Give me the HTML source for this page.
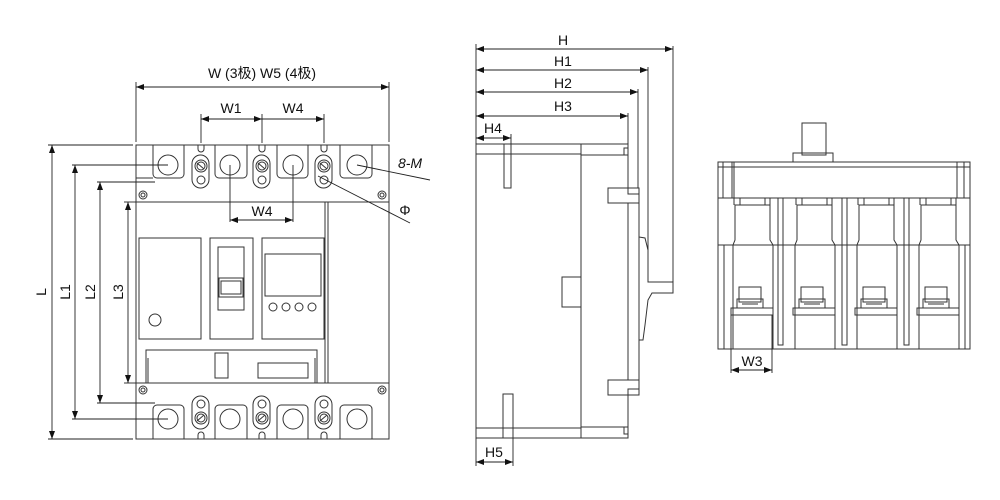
<!DOCTYPE html>
<html><head><meta charset="utf-8"><style>
html,body{margin:0;padding:0;background:#fff;}
svg{display:block;}
text{font-family:"Liberation Sans","Noto Sans CJK SC",sans-serif;font-size:14px;fill:#111;}
</style></head><body>
<svg width="1000" height="500" viewBox="0 0 1000 500" xmlns="http://www.w3.org/2000/svg">
<defs>
<marker id="a" markerWidth="8" markerHeight="6" refX="8" refY="3" orient="auto-start-reverse" markerUnits="userSpaceOnUse"><path d="M0,0 L8,3 L0,6 z" fill="#111"/></marker>
</defs>
<g fill="none" stroke="#333" stroke-width="1">
<!-- FRONT VIEW -->
<rect x="136" y="145" width="253" height="294"/>
<line x1="136" y1="202" x2="389" y2="202"/>
<line x1="136" y1="383" x2="389" y2="383"/>
<line x1="325" y1="202" x2="325" y2="383"/>
<line x1="328" y1="202" x2="328" y2="383"/>
<circle cx="143" cy="195" r="4"/><circle cx="143" cy="195" r="2"/>
<circle cx="382" cy="195" r="4"/><circle cx="382" cy="195" r="2"/>
<circle cx="143" cy="390" r="4"/><circle cx="143" cy="390" r="2"/>
<circle cx="382" cy="390" r="4"/><circle cx="382" cy="390" r="2"/>
<!-- top terminals -->
<path d="M153,145 V174 a4,4 0 0 0 4,4 H180 a4,4 0 0 0 4,-4 V145"/>
<path d="M215,145 V174 a4,4 0 0 0 4,4 H243 a4,4 0 0 0 4,-4 V145"/>
<path d="M277,145 V174 a4,4 0 0 0 4,4 H304 a4,4 0 0 0 4,-4 V145"/>
<path d="M340,145 V174 a4,4 0 0 0 4,4 H368 a4,4 0 0 0 4,-4 V145"/>
<circle cx="168" cy="165" r="10"/><circle cx="230" cy="165" r="10"/><circle cx="293" cy="165" r="10"/><circle cx="357" cy="165" r="10"/>
<line x1="136" y1="178" x2="153" y2="178"/>
<!-- bottom terminals -->
<path d="M153,439 V409 a4,4 0 0 1 4,-4 H180 a4,4 0 0 1 4,4 V439"/>
<path d="M215,439 V409 a4,4 0 0 1 4,-4 H243 a4,4 0 0 1 4,4 V439"/>
<path d="M277,439 V409 a4,4 0 0 1 4,-4 H304 a4,4 0 0 1 4,4 V439"/>
<path d="M340,439 V409 a4,4 0 0 1 4,-4 H368 a4,4 0 0 1 4,4 V439"/>
<circle cx="168" cy="419" r="10"/><circle cx="230" cy="419" r="10"/><circle cx="293" cy="419" r="10"/><circle cx="357" cy="419" r="10"/>
<!-- screws top -->
<g id="sc">
<rect x="192" y="155" width="17" height="33" rx="8.5"/>
<circle cx="201" cy="166" r="6"/><circle cx="201" cy="166" r="4"/>
<line x1="197" y1="163" x2="204" y2="169"/>
<circle cx="201" cy="180" r="4"/>
<path d="M198,145 v4 a3,3 0 0 0 6,0 v-4"/>
</g>
<use href="#sc" x="61"/><use href="#sc" x="123"/>
<g transform="translate(0,584) scale(1,-1)"><use href="#sc"/><use href="#sc" x="61"/><use href="#sc" x="123"/></g>
<!-- panels -->
<rect x="139" y="238" width="62" height="101"/>
<circle cx="155" cy="320" r="6"/>
<rect x="210" y="238" width="43" height="101"/>
<rect x="218" y="247" width="26" height="63"/>
<rect x="219" y="278" width="24" height="19"/>
<rect x="221" y="281" width="20" height="13"/>
<rect x="262" y="238" width="62" height="101"/>
<rect x="265" y="254" width="56" height="42"/>
<circle cx="273" cy="307" r="4"/><circle cx="286" cy="307" r="4"/><circle cx="299" cy="307" r="4"/><circle cx="312" cy="307" r="4"/>
<path d="M146,383 V350 H317 V383"/>
<path d="M148,383 V358 M315,383 V358"/>
<rect x="215" y="353" width="13" height="25"/>
<rect x="258" y="363" width="50" height="15"/>
</g>
<!-- front dims -->
<g fill="none" stroke="#222" stroke-width="0.9">
<line x1="136" y1="87" x2="389" y2="87" marker-start="url(#a)" marker-end="url(#a)"/>
<line x1="136" y1="82" x2="136" y2="142"/><line x1="389" y1="82" x2="389" y2="142"/>
<line x1="201" y1="119" x2="262" y2="119" marker-start="url(#a)" marker-end="url(#a)"/>
<line x1="262" y1="119" x2="324" y2="119" marker-end="url(#a)"/>
<line x1="201" y1="114" x2="201" y2="143"/><line x1="262" y1="114" x2="262" y2="143"/><line x1="324" y1="114" x2="324" y2="143"/>
<line x1="230" y1="165" x2="230" y2="222"/><line x1="293" y1="165" x2="293" y2="222"/>
<line x1="230" y1="220" x2="293" y2="220" marker-start="url(#a)" marker-end="url(#a)"/>
<line x1="52" y1="145" x2="52" y2="439" marker-start="url(#a)" marker-end="url(#a)"/>
<line x1="48" y1="145" x2="133" y2="145"/><line x1="48" y1="439" x2="133" y2="439"/>
<line x1="75" y1="165" x2="75" y2="419" marker-start="url(#a)" marker-end="url(#a)"/>
<line x1="72" y1="165" x2="168" y2="165"/><line x1="72" y1="419" x2="168" y2="419"/>
<line x1="100" y1="182" x2="100" y2="403" marker-start="url(#a)" marker-end="url(#a)"/>
<line x1="97" y1="182" x2="155" y2="182"/><line x1="97" y1="403" x2="155" y2="403"/>
<line x1="128" y1="202" x2="128" y2="383" marker-start="url(#a)" marker-end="url(#a)"/>
<line x1="124" y1="202" x2="136" y2="202"/><line x1="124" y1="383" x2="136" y2="383"/>
<line x1="357" y1="165" x2="430" y2="180"/>
<line x1="318" y1="176" x2="410" y2="223"/>
</g>
<text x="262" y="78" text-anchor="middle">W (3极) W5 (4极)</text>
<text x="231" y="113" text-anchor="middle">W1</text>
<text x="293" y="113" text-anchor="middle">W4</text>
<text x="262" y="216" text-anchor="middle">W4</text>
<text x="410" y="168" text-anchor="middle" font-style="italic">8-M</text>
<text x="405" y="215" text-anchor="middle">Φ</text>
<text transform="translate(46,292) rotate(-90)" text-anchor="middle">L</text>
<text transform="translate(70,292) rotate(-90)" text-anchor="middle">L1</text>
<text transform="translate(95,292) rotate(-90)" text-anchor="middle">L2</text>
<text transform="translate(123,292) rotate(-90)" text-anchor="middle">L3</text>

<!-- SIDE VIEW -->
<g fill="none" stroke="#333" stroke-width="1">
<rect x="476" y="144" width="105" height="294"/>
<line x1="476" y1="154" x2="581" y2="154"/><line x1="476" y1="428" x2="581" y2="428"/>
<path d="M581,144 H628 V188 M581,438 H628 V393"/>
<line x1="581" y1="155" x2="625" y2="155"/><line x1="581" y1="427" x2="625" y2="427"/>
<rect x="624" y="148" width="4" height="7"/><rect x="624" y="427" width="4" height="7"/>
<rect x="504" y="144" width="7" height="44"/>
<rect x="503" y="394" width="10" height="44"/>
<rect x="562" y="277" width="19" height="30"/>
<rect x="608" y="188" width="31" height="15"/><rect x="628" y="188" width="11" height="6"/>
<rect x="608" y="380" width="31" height="15"/><rect x="628" y="389" width="11" height="6"/>
<line x1="628" y1="203" x2="628" y2="380"/><line x1="639" y1="203" x2="639" y2="380"/>
<path d="M639,237 L645,238 L648,250 L648,282 L673,282 L673,293 L652,293 L648,300 L645,325 L643,340 L639,340"/>
</g>
<g fill="none" stroke="#222" stroke-width="0.9">
<line x1="476" y1="44" x2="476" y2="144"/>
<line x1="476" y1="49" x2="673" y2="49" marker-start="url(#a)" marker-end="url(#a)"/>
<line x1="673" y1="46" x2="673" y2="282"/>
<line x1="476" y1="70" x2="648" y2="70" marker-start="url(#a)" marker-end="url(#a)"/>
<line x1="648" y1="67" x2="648" y2="250"/>
<line x1="476" y1="92" x2="638" y2="92" marker-start="url(#a)" marker-end="url(#a)"/>
<line x1="638" y1="89" x2="638" y2="188"/>
<line x1="476" y1="116" x2="628" y2="116" marker-start="url(#a)" marker-end="url(#a)"/>
<line x1="628" y1="113" x2="628" y2="144"/>
<line x1="476" y1="138" x2="511" y2="138" marker-start="url(#a)" marker-end="url(#a)"/>
<line x1="511" y1="134" x2="511" y2="144"/>
<line x1="476" y1="438" x2="476" y2="466"/><line x1="513" y1="438" x2="513" y2="466"/>
<line x1="476" y1="462" x2="513" y2="462" marker-start="url(#a)" marker-end="url(#a)"/>
</g>
<text x="563" y="45" text-anchor="middle">H</text>
<text x="563" y="66" text-anchor="middle">H1</text>
<text x="563" y="88" text-anchor="middle">H2</text>
<text x="563" y="111" text-anchor="middle">H3</text>
<text x="493" y="133" text-anchor="middle">H4</text>
<text x="494" y="457" text-anchor="middle">H5</text>

<!-- END VIEW -->
<g fill="none" stroke="#333" stroke-width="1">
<rect x="718" y="162" width="252" height="187"/>
<line x1="718" y1="167" x2="970" y2="167"/>
<line x1="718" y1="198" x2="970" y2="198"/>
<line x1="718" y1="245" x2="970" y2="245"/>
<line x1="723" y1="162" x2="723" y2="198"/><line x1="732" y1="162" x2="732" y2="198"/><line x1="734" y1="162" x2="734" y2="198"/>
<line x1="957" y1="162" x2="957" y2="198"/><line x1="964" y1="162" x2="964" y2="198"/>
<line x1="724" y1="245" x2="724" y2="349"/><line x1="965" y1="245" x2="965" y2="349"/>
<rect x="802" y="123" width="24" height="32"/>
<path d="M793,162 V153 H833 V162"/>
<rect x="778" y="198" width="5" height="147"/>
<rect x="842" y="198" width="5" height="147"/>
<rect x="904" y="198" width="5" height="147"/>
<g id="pl">
<path d="M733,349 V245 L735,240 V205 H770 V240 L773,245 V349"/>
<line x1="734" y1="198" x2="734" y2="205"/><line x1="740" y1="198" x2="740" y2="205"/><line x1="765" y1="198" x2="765" y2="205"/><line x1="770" y1="198" x2="770" y2="205"/>
<rect x="739" y="287" width="22" height="15"/>
<rect x="737" y="299" width="26" height="9"/>
<line x1="742" y1="304" x2="758" y2="304"/>
<rect x="731" y="308" width="42" height="7"/>
</g>
<use href="#pl" x="62"/><use href="#pl" x="124"/><use href="#pl" x="186"/>
</g>
<g fill="none" stroke="#222" stroke-width="0.9">
<line x1="731" y1="315" x2="731" y2="373"/><line x1="772" y1="315" x2="772" y2="373"/>
<line x1="731" y1="370" x2="772" y2="370" marker-start="url(#a)" marker-end="url(#a)"/>
</g>
<text x="752" y="366" text-anchor="middle">W3</text>
</svg>
</body></html>
